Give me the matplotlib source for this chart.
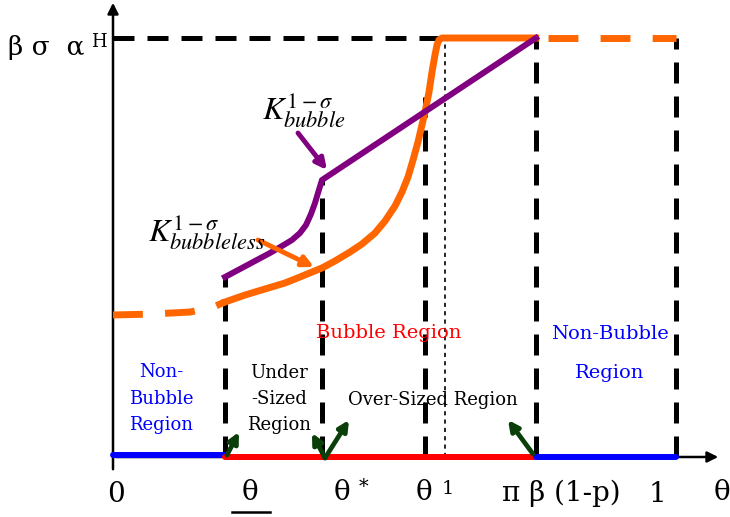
import matplotlib
matplotlib.use("Agg")
import matplotlib.pyplot as plt

# ---- data (x: theta in [0,1]; y: normalised, 1 = beta*sigma*alpha^H) ----
theta_marks = {"theta_low": 0.199, "theta_star": 0.371, "theta_1": 0.554,
               "theta_dot": 0.590, "pi_beta": 0.751, "one": 1.0}

orange_left_x = [0.0, 0.066, 0.137, 0.178, 0.199]
orange_left_y = [0.339, 0.341, 0.346, 0.358, 0.370]

orange_x = [0.1989, 0.2345, 0.2700, 0.3055, 0.3321, 0.3535, 0.3712, 0.3943,
            0.4210, 0.4423, 0.4654, 0.4831, 0.5009, 0.5133, 0.5240, 0.5329,
            0.5417, 0.5488, 0.5542, 0.5613, 0.5666, 0.5719, 0.5755, 0.5790,
            0.5844, 0.751]
orange_y = [0.3699, 0.3866, 0.4010, 0.4153, 0.4296, 0.4415, 0.4511, 0.4678,
            0.4893, 0.5084, 0.5346, 0.5632, 0.5990, 0.6325, 0.6683, 0.7088,
            0.7518, 0.7924, 0.8234, 0.8711, 0.9189, 0.9594, 0.9833, 0.9952,
            1.0, 1.0]

orange_right_x = [0.751, 1.0]
orange_right_y = [1.0, 1.0]

purple_x = [0.1989, 0.2256, 0.2522, 0.2789, 0.3002, 0.3179, 0.3321, 0.3428,
            0.3517, 0.3588, 0.3641, 0.3712, 0.7513]
purple_y = [0.4296, 0.4487, 0.4678, 0.4869, 0.5036, 0.5179, 0.5346, 0.5537,
            0.5800, 0.6062, 0.6301, 0.6611, 1.0]

vline_tops = {"theta_low": 0.430, "theta_star": 0.661, "theta_1": 0.859,
              "pi_beta": 1.0, "one": 1.0}

x_tick_labels = ["0", "θ", "θ *", "θ 1", "π β (1-p)", "1", "θ"]

# ---- layout helpers (pixel -> data) ----
W, H = 730, 517
X0, XS = 113, 563
Y0, YS = 457, 419


def P(px, py):
    return ((px - X0) / XS, (Y0 - py) / YS)


fig = plt.figure(figsize=(W / 100, H / 100), dpi=100)
ax = fig.add_axes([0, 0, 1, 1])
ax.set_xlim(P(0, 0)[0], P(W, 0)[0])
ax.set_ylim(P(0, H)[1], P(0, 0)[1])
ax.axis("off")

ORANGE = "#ff6600"
PURPLE = "#800080"
GREEN = "#0a3f0a"
serif = "DejaVu Serif"
plt.rcParams["mathtext.fontset"] = "stix"

# axes
ax.annotate("", xy=P(113, 0), xytext=P(113, 472),
            arrowprops=dict(arrowstyle="-|>", lw=1.8, color="black", mutation_scale=16))
ax.annotate("", xy=P(721, 457), xytext=P(113, 457),
            arrowprops=dict(arrowstyle="-|>", lw=1.8, color="black", mutation_scale=16))

# black dashed verticals
for k, top in vline_tops.items():
    x = theta_marks[k]
    ax.plot([x, x], [0, top], color="black", lw=3.6, ls=(0, (4.2, 2.6)), zorder=2)
# horizontal dashed at top
ax.plot([0, orange_x[-2]], [1, 1], color="black", lw=3.6, ls=(0, (4.2, 2.6)), zorder=2)
# dotted thin vertical
ax.plot([theta_marks["theta_dot"]] * 2, [0, 1], color="black", lw=1.2, ls=(0, (2.5, 2.5)), zorder=2)

# curves
ax.plot(orange_left_x, orange_left_y, color=ORANGE, lw=5, ls=(0, (4.3, 3.2)), zorder=3)
ax.plot(orange_right_x, orange_right_y, color=ORANGE, lw=5, ls=(5.77, (4.3, 3.2)), zorder=3)
ax.plot(orange_x, orange_y, color=ORANGE, lw=5, solid_joinstyle="round", zorder=4)
ax.plot(purple_x, purple_y, color=PURPLE, lw=4.3, solid_joinstyle="round", zorder=5)

# bottom region bars
ax.plot([0, theta_marks["theta_low"]], [0.004, 0.004], color="blue", lw=4.3,
        solid_capstyle="round", zorder=6)
ax.plot([theta_marks["theta_low"], theta_marks["pi_beta"]], [0, 0], color="red", lw=4.3,
        solid_capstyle="round", zorder=6)
ax.plot([theta_marks["pi_beta"], theta_marks["one"]], [0, 0], color="blue", lw=4.3,
        solid_capstyle="round", zorder=6)

# label arrows
arr = dict(arrowstyle="-|>", lw=3.5, mutation_scale=16, shrinkA=0, shrinkB=0)
ax.annotate("", xy=P(327, 170), xytext=P(298, 133), arrowprops=dict(color=PURPLE, **arr), zorder=7)
ax.annotate("", xy=P(314, 267), xytext=P(258, 240), arrowprops=dict(color=ORANGE, **arr), zorder=7)
garr = dict(arrowstyle="-|>", lw=3.4, mutation_scale=15, shrinkA=0, shrinkB=0, color=GREEN)
ax.annotate("", xy=P(239, 432), xytext=P(227, 455), arrowprops=garr, zorder=7)
ax.annotate("", xy=P(312, 433), xytext=P(325, 458), arrowprops=garr, zorder=7)
ax.annotate("", xy=P(349, 420), xytext=P(325, 458), arrowprops=garr, zorder=7)
ax.annotate("", xy=P(508, 420), xytext=P(533, 454), arrowprops=garr, zorder=7)

# K labels
ax.text(*P(262, 110), r"$K^{1-\sigma}_{bubble}$", fontsize=23, ha="left", va="center", zorder=8)
ax.text(*P(148, 232), r"$K^{1-\sigma}_{bubbleless}$", fontsize=23, ha="left", va="center", zorder=8)

# top-left y label
ax.text(*P(8, 47), "β σ  α", fontsize=19, family=serif, ha="left", va="center")
ax.text(*P(91, 42), "H", fontsize=13, family=serif, ha="left", va="center")

# region texts
ax.text(*P(389, 333), "Bubble Region", fontsize=14, family=serif, color="red",
        ha="center", va="center", zorder=8)
ax.text(*P(610, 334), "Non-Bubble", fontsize=14, family=serif, color="blue", ha="center", va="center")
ax.text(*P(610, 373), "Region", fontsize=14, family=serif, color="blue", ha="center", va="center")
for txt, y in [("Non-", 372), ("Bubble", 399), ("Region", 425)]:
    ax.text(*P(161, y), txt, fontsize=13, family=serif, color="blue", ha="center", va="center")
for txt, y in [("Under", 373), ("-Sized", 399), ("Region", 425)]:
    ax.text(*P(279, y), txt, fontsize=13, family=serif, color="black", ha="center", va="center")
ax.text(*P(433, 400), "Over-Sized Region", fontsize=13, family=serif, ha="center", va="center",
        zorder=8)

# x tick labels
fs = 20
ax.text(*P(116, 495), x_tick_labels[0], fontsize=fs, family=serif, ha="center", va="center")
ax.text(*P(250, 493), x_tick_labels[1], fontsize=fs, family=serif, ha="center", va="center")
ax.plot(*zip(P(232, 512), P(270, 512)), color="black", lw=1.8)
ax.text(*P(342, 493), "θ", fontsize=fs, family=serif, ha="center", va="center")
ax.text(*P(364, 487), "*", fontsize=14, family=serif, ha="center", va="center")
ax.text(*P(424, 493), "θ", fontsize=fs, family=serif, ha="center", va="center")
ax.text(*P(448, 489), "1", fontsize=14, family=serif, ha="center", va="center")
ax.text(*P(561, 493), x_tick_labels[4], fontsize=fs, family=serif, ha="center", va="center")
ax.text(*P(657, 495), x_tick_labels[5], fontsize=fs, family=serif, ha="center", va="center")
ax.text(*P(722, 493), x_tick_labels[6], fontsize=fs, family=serif, ha="center", va="center")

fig.savefig("out.png", dpi=100)
